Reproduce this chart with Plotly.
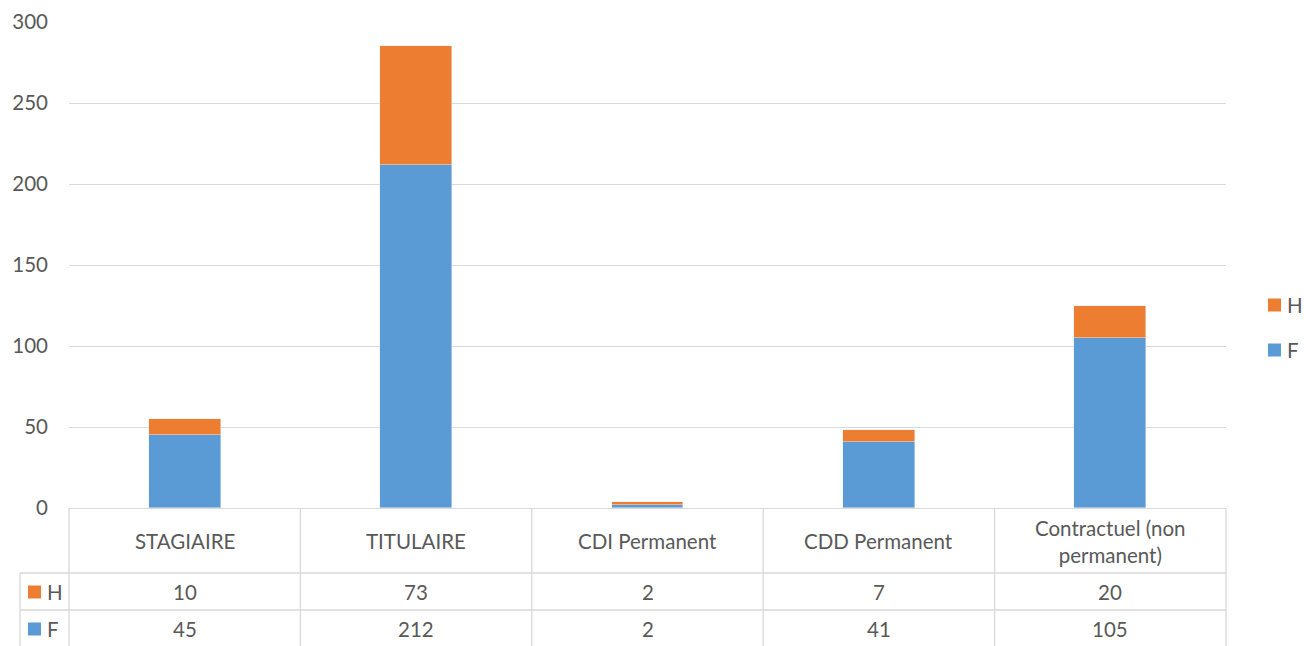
import plotly.graph_objects as go

# Effectifs par statut, répartis entre hommes (H) et femmes (F)
categories = ["STAGIAIRE", "TITULAIRE", "CDI Permanent", "CDD Permanent", "Contractuel (non permanent)"]
header_labels = ["STAGIAIRE", "TITULAIRE", "CDI Permanent", "CDD Permanent", "Contractuel (non<br>permanent)"]
values_h = [10, 73, 2, 7, 20]
values_f = [45, 212, 2, 41, 105]
y_ticks = [0, 50, 100, 150, 200, 250, 300]

COLOR_H = "#ED7D31"
COLOR_F = "#5B9BD5"
TEXT = "#595959"
GRID = "#D9D9D9"
FONT = "Lato"
FS = 20.5

W, H = 1304, 646
ML, MR, MT, MB = 69, 78, 22, 138
plot_h = H - MT - MB


def py(px):
    """Convert a pixel row (from top) to paper y."""
    return (H - MB - px) / plot_h


def px_x(px):
    """Convert a pixel column to paper x."""
    return (px - ML) / (W - ML - MR)


fig = go.Figure()
fig.add_trace(go.Bar(x=categories, y=values_f, name="F", marker_color=COLOR_F,
                     width=0.31, showlegend=False))
fig.add_trace(go.Bar(x=categories, y=values_h, name="H", marker_color=COLOR_H,
                     width=0.31, showlegend=False))

shapes = []
annotations = []
font = dict(family=FONT, size=FS, color=TEXT)
line = dict(color=GRID, width=1.3)

# Data table: vertical separators between categories
n = len(categories)
for i in range(n + 1):
    shapes.append(dict(type="line", xref="paper", yref="paper",
                       x0=i / n, x1=i / n, y0=0, y1=py(H + 2), line=line))
# Legend-key column of the table
shapes.append(dict(type="line", xref="paper", yref="paper",
                   x0=px_x(20), x1=px_x(20), y0=py(573), y1=py(H + 2), line=line))
# Horizontal separators of the table
for row_y in (573, 610):
    shapes.append(dict(type="line", xref="paper", yref="paper",
                       x0=px_x(20), x1=1, y0=py(row_y), y1=py(row_y), line=line))

# Series keys: inside the table rows and in the side legend
series = (("H", COLOR_H, 592, 305), ("F", COLOR_F, 629, 350))
for name, color, row_cy, leg_cy in series:
    shapes.append(dict(type="rect", xref="paper", yref="paper",
                       x0=px_x(28), x1=px_x(41), y0=py(row_cy - 6.5), y1=py(row_cy + 6.5),
                       fillcolor=color, line=dict(width=0)))
    annotations.append(dict(x=px_x(45), xref="paper", xanchor="left", y=py(row_cy), yref="paper",
                            yanchor="middle", text=name, showarrow=False, font=font))
    shapes.append(dict(type="rect", xref="paper", yref="paper",
                       x0=px_x(1268), x1=px_x(1281), y0=py(leg_cy - 6.5), y1=py(leg_cy + 6.5),
                       fillcolor=color, line=dict(width=0)))
    annotations.append(dict(x=px_x(1285), xref="paper", xanchor="left", y=py(leg_cy), yref="paper",
                            yanchor="middle", text=name, showarrow=False, font=font))

# Table cells: category header and values per series
for cat, lab, h_val, f_val in zip(categories, header_labels, values_h, values_f):
    annotations.append(dict(x=cat, xref="x", y=py(541), yref="paper", text=lab,
                            xanchor="center", yanchor="middle",
                            showarrow=False, font=font, align="center"))
    annotations.append(dict(x=cat, xref="x", y=py(592), yref="paper", text=str(h_val),
                            xanchor="center", yanchor="middle", showarrow=False, font=font))
    annotations.append(dict(x=cat, xref="x", y=py(629), yref="paper", text=str(f_val),
                            xanchor="center", yanchor="middle", showarrow=False, font=font))

fig.update_layout(
    width=W, height=H,
    margin=dict(l=ML, r=MR, t=MT, b=MB, autoexpand=False),
    barmode="stack",
    bargap=0,
    plot_bgcolor="white",
    paper_bgcolor="white",
    font=dict(family=FONT, size=FS, color=TEXT),
    showlegend=False,
    xaxis=dict(showticklabels=False, showgrid=False, showline=False, zeroline=False,
               range=[-0.5, n - 0.5], fixedrange=True),
    yaxis=dict(range=[0, 300], tickvals=y_ticks, showgrid=True, gridcolor=GRID, gridwidth=1.3,
               zeroline=True, zerolinecolor=GRID, zerolinewidth=1.3, showline=False,
               ticks="", ticklabelstandoff=20, tickfont=dict(family=FONT, size=FS, color=TEXT)),
    shapes=shapes,
    annotations=annotations,
)

fig.write_html("out.html")
